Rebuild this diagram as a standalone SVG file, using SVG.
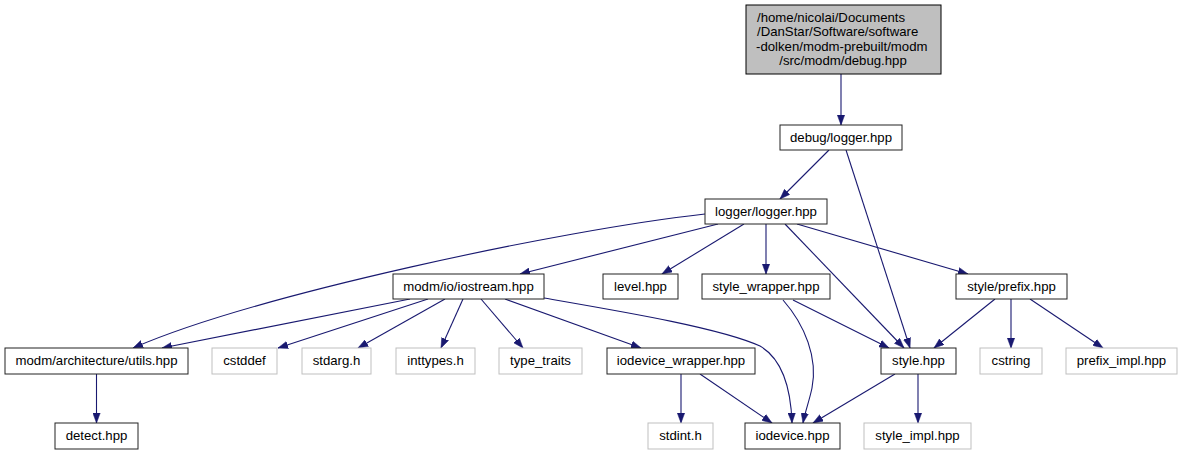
<svg xmlns="http://www.w3.org/2000/svg" width="1183" height="455" viewBox="0 0 1183 455">
<style>
.n rect{fill:#fff;stroke:#222;stroke-width:1}
.x rect{fill:#fff;stroke:#bfbfbf;stroke-width:1}
.r rect{fill:#bfbfbf;stroke:#000;stroke-width:1}
text{font-family:"Liberation Sans",Arial,sans-serif;font-size:13.2px;fill:#000;text-anchor:middle}
.e path{fill:none;stroke:#191970;stroke-width:1.1;marker-end:url(#a)}
</style>
<defs>
<marker id="a" markerUnits="userSpaceOnUse" markerWidth="11" markerHeight="8" refX="10" refY="4" orient="auto"><path d="M0,0.3 L10,4 L0,7.7 z" fill="#191970" stroke="#191970" stroke-width="0.5"/></marker>
</defs>
<rect width="1183" height="455" fill="#fff"/>
<g id="edges" class="e">
<path d="M841,74 L841,125"/>
<path d="M829,150 L780,199"/>
<path d="M846,150 L910,348"/>
<path d="M705,214 C560,230 255,295 133,348"/>
<path d="M718,224 L520,274"/>
<path d="M744,224 L662,274"/>
<path d="M766,224 L766,274"/>
<path d="M785,224 L904,348"/>
<path d="M797,224 L968,274"/>
<path d="M410,299 L162,348"/>
<path d="M428,299 L278,348"/>
<path d="M445,299 L358,348"/>
<path d="M463,299 L441,348"/>
<path d="M481,299 L523,348"/>
<path d="M505,299 L641,348"/>
<path d="M544,298 C625,312 720,328 760,346 C784,360 791,392 792,423"/>
<path d="M96.5,374 L96.5,423"/>
<path d="M681,374 L681,423"/>
<path d="M700,374 L772,423"/>
<path d="M793,300 L889,348"/>
<path d="M783,300 C805,325 818,358 812,388 C809,402 805,412 803,423"/>
<path d="M895,374 L813,423"/>
<path d="M918,374 L918,423"/>
<path d="M995,299 L934,348"/>
<path d="M1011,299 L1011,348"/>
<path d="M1030,299 L1103,348"/>
</g>
<g id="root" class="r"><rect x="746" y="5" width="195" height="69"/>
<text x="757" y="22" style="text-anchor:start">/home/nicolai/Documents</text>
<text x="757" y="36" style="text-anchor:start">/DanStar/Software/software</text>
<text x="756" y="51" style="text-anchor:start">-dolken/modm-prebuilt/modm</text>
<text x="843" y="65">/src/modm/debug.hpp</text></g>
<g id="debug_logger" class="n"><rect x="780" y="125" width="122" height="25"/><text x="841" y="142">debug/logger.hpp</text></g>
<g id="logger_logger" class="n"><rect x="705" y="199" width="122" height="25"/><text x="766" y="216">logger/logger.hpp</text></g>
<g id="iostream" class="n"><rect x="393" y="274" width="151" height="25"/><text x="468.5" y="291">modm/io/iostream.hpp</text></g>
<g id="level" class="n"><rect x="603" y="274" width="75" height="25"/><text x="640.5" y="291">level.hpp</text></g>
<g id="style_wrapper" class="n"><rect x="702" y="274" width="128" height="25"/><text x="766" y="291">style_wrapper.hpp</text></g>
<g id="prefix" class="n"><rect x="956" y="274" width="111" height="25"/><text x="1011.5" y="291">style/prefix.hpp</text></g>
<g id="utils" class="n"><rect x="5" y="348" width="183" height="26"/><text x="96.5" y="365">modm/architecture/utils.hpp</text></g>
<g id="cstddef" class="x"><rect x="212" y="348" width="65" height="26"/><text x="244.5" y="365">cstddef</text></g>
<g id="stdarg" class="x"><rect x="302" y="348" width="69" height="26"/><text x="336.5" y="365">stdarg.h</text></g>
<g id="inttypes" class="x"><rect x="396" y="348" width="79" height="26"/><text x="435.5" y="365">inttypes.h</text></g>
<g id="type_traits" class="x"><rect x="499" y="348" width="83" height="26"/><text x="540.5" y="365">type_traits</text></g>
<g id="iodevice_wrapper" class="n"><rect x="607" y="348" width="148" height="26"/><text x="681" y="365">iodevice_wrapper.hpp</text></g>
<g id="style" class="n"><rect x="881" y="348" width="75" height="26"/><text x="918.5" y="365">style.hpp</text></g>
<g id="cstring" class="x"><rect x="980" y="348" width="62" height="26"/><text x="1011" y="365">cstring</text></g>
<g id="prefix_impl" class="x"><rect x="1066" y="348" width="111" height="26"/><text x="1121.5" y="365">prefix_impl.hpp</text></g>
<g id="detect" class="n"><rect x="55" y="423" width="83" height="26"/><text x="96.5" y="440">detect.hpp</text></g>
<g id="stdint" class="x"><rect x="648" y="423" width="65" height="26"/><text x="680.5" y="440">stdint.h</text></g>
<g id="iodevice" class="n"><rect x="745" y="423" width="95" height="26"/><text x="792.5" y="440">iodevice.hpp</text></g>
<g id="style_impl" class="x"><rect x="864" y="423" width="107" height="26"/><text x="917.5" y="440">style_impl.hpp</text></g>
</svg>
